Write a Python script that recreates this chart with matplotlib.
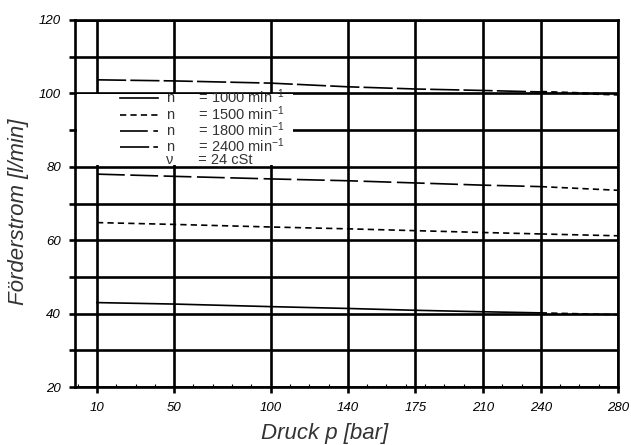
import matplotlib
matplotlib.use('Agg')
import matplotlib.pyplot as plt
from matplotlib.lines import Line2D
from matplotlib.patches import Rectangle
import numpy as np

plt.rcParams['font.family'] = ['Liberation Sans', 'DejaVu Sans']
plt.rcParams['mathtext.default'] = 'regular'
plt.rcParams['lines.scale_dashes'] = False

# Foerderstrom ueber Druck, gemessen bis 240 bar
p = [10, 50, 100, 140, 175, 210, 240]
q1000 = [43.0, 42.6, 41.9, 41.4, 40.9, 40.5, 40.2]
q1500 = [64.8, 64.3, 63.6, 63.1, 62.6, 62.1, 61.7]
q1800 = [78.0, 77.4, 76.7, 76.2, 75.6, 75.0, 74.6]
q2400 = [103.7, 103.4, 102.8, 101.8, 101.2, 100.8, 100.4]

# extrapoliert 240 -> 280 bar
p_ext = [240, 280]
q1000_ext = [40.2, 39.7]
q1500_ext = [61.7, 61.2]
q1800_ext = [74.6, 73.6]
q2400_ext = [100.4, 99.7]

xticks = [10, 50, 100, 140, 175, 210, 240, 280]
labels = ['n      = 1000 min$^{-1}$', 'n      = 1500 min$^{-1}$',
          'n      = 1800 min$^{-1}$', 'n      = 2400 min$^{-1}$',
          'ν      = 24 cSt']

short = (4.5, 3.0)
long1800 = (20, 4)
long2400 = (21, 3)

fig = plt.figure(figsize=(6.31, 4.45), dpi=100)
ax = fig.add_axes([75/631, 1-387/445, 543/631, 367/445])

ax.set_xlim(-1.4, 280)
ax.set_ylim(20, 120)

ax.plot(p, q1000, color='black', lw=1.2, zorder=3)
ax.plot(p, q1500, color='black', lw=1.2, dashes=short, zorder=3)
ax.plot(p, q1800, color='black', lw=1.2, dashes=long1800, zorder=3)
ax.plot(p, q2400, color='black', lw=1.2, dashes=long2400, zorder=3)
for q in (q1000_ext, q1500_ext, q1800_ext):
    ax.plot(p_ext, q, color='black', lw=1.2, dashes=short, zorder=3)
ax.plot(p_ext, q2400_ext, color='black', lw=1.8, dashes=short, zorder=3)

# Achsen / Raster
ax.set_xticks(xticks)
ax.set_xticks([v for v in range(0, 281, 10) if v not in xticks], minor=True)
ax.set_yticks(np.arange(20, 121, 20))
ax.set_yticks(np.arange(30, 120, 20), minor=True)
ax.grid(axis='x', which='major', color='black', lw=1.9)
ax.grid(axis='y', which='both', color='black', lw=1.9)
for s in ax.spines.values():
    s.set_linewidth(1.9)
ax.tick_params(axis='x', which='major', direction='out', length=4, width=1.9,
               pad=7, labelsize=9.5)
ax.tick_params(axis='x', which='minor', direction='in', length=2, width=0.8)
ax.tick_params(axis='y', which='both', direction='out', length=4, width=1.9,
               pad=6, labelsize=9.5)
for t in ax.get_xticklabels() + ax.get_yticklabels():
    t.set_fontstyle('italic')

fig.text(325/631, 1-434/445, 'Druck p [bar]', fontsize=16, style='italic',
         color='#333333', ha='center', va='center')
fig.text(19/631, 1-212/445, 'Förderstrom [l/min]', fontsize=16, style='italic',
         color='#333333', ha='center', va='center', rotation=90)

# Legende auf weissem Feld
ax.add_patch(Rectangle((0.004, 0.605), 0.397, 0.193, transform=ax.transAxes,
                       facecolor='white', edgecolor='none', zorder=2.5))
handles = [Line2D([], [], color='black', lw=1.2),
           Line2D([], [], color='black', lw=1.2, dashes=short),
           Line2D([], [], color='black', lw=1.2, dashes=long1800),
           Line2D([], [], color='black', lw=1.2, dashes=long2400),
           Line2D([], [], linestyle='none')]
leg = ax.legend(handles, labels, loc='upper left', bbox_to_anchor=(0.083, 0.815),
                frameon=False, fontsize=10.5, handlelength=2.6, handletextpad=0.55,
                labelspacing=-0.16, borderpad=0, borderaxespad=0,
                labelcolor='#333333')
leg.set_zorder(4)

fig.savefig('out.png', dpi=100)
